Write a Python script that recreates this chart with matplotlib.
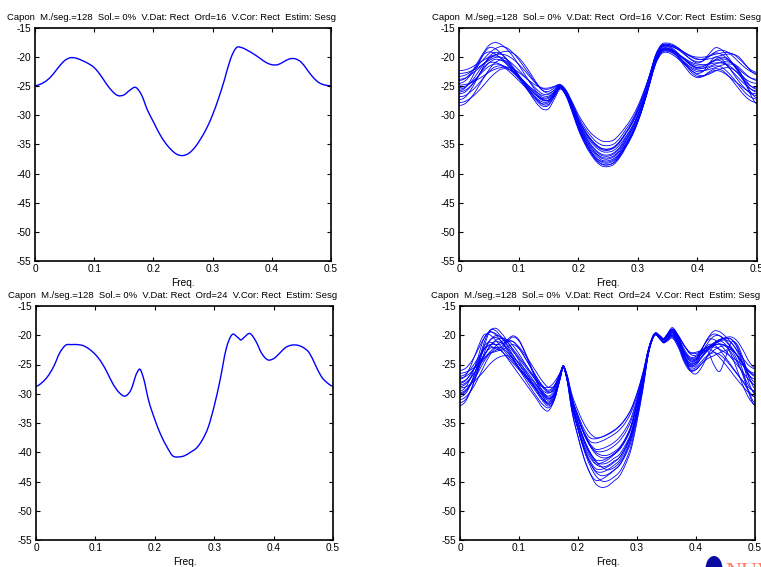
import numpy as np
import matplotlib
matplotlib.use("Agg")
import matplotlib.pyplot as plt
from matplotlib.path import Path
from matplotlib.patches import PathPatch, Ellipse

plt.rcParams["font.family"] = ["Liberation Sans", "DejaVu Sans"]

# Frequency grids
freq_top = [round(0.01 * i, 3) for i in range(51)]
freq_bot = sorted(freq_top + [0.175, 0.345])

title_16 = "Capon  M./seg.=128  Sol.= 0%  V.Dat: Rect  Ord=16  V.Cor: Rect  Estim: Sesg"
title_24 = "Capon  M./seg.=128  Sol.= 0%  V.Dat: Rect  Ord=24  V.Cor: Rect  Estim: Sesg"

xticks = [0, 0.1, 0.2, 0.3, 0.4, 0.5]
xticklabels = ["0", "0.1", "0.2", "0.3", "0.4", "0.5"]
yticks = [-55, -50, -45, -40, -35, -30, -25, -20, -15]
yticklabels = ["-55", "-50", "-45", "-40", "-35", "-30", "-25", "-20", "-15"]

# Order 16, whole record (dB)
spec_16 = [-24.9, -24.6, -24.0, -23.0, -21.7, -20.6, -20.1, -20.2, -20.6, -21.1,
           -21.8, -23.0, -24.5, -25.8, -26.6, -26.5, -25.7, -25.2, -26.5, -29.1,
           -31.1, -33.1, -34.7, -35.9, -36.7, -36.9, -36.5, -35.5, -34.0, -32.2,
           -29.9, -27.1, -23.9, -20.4, -18.4, -18.4, -18.9, -19.5, -20.2, -20.9,
           -21.3, -21.3, -20.8, -20.3, -20.3, -20.9, -22.2, -23.5, -24.4, -24.8,
           -24.9]

# Order 24, whole record (dB)
spec_24 = [-28.7, -28.1, -27.0, -25.3, -23.0, -21.7, -21.6, -21.6, -21.8, -22.4,
           -23.3, -24.6, -26.4, -28.4, -29.8, -30.4, -29.3, -26.4, -25.8, -27.0,
           -31.3, -34.4, -37.0, -39.0, -40.6, -40.8, -40.6, -40.0, -39.3, -37.9,
           -35.7, -32.1, -27.6, -22.4, -19.9, -20.4, -20.8, -20.4, -19.7, -21.0,
           -23.1, -24.2, -24.0, -23.1, -22.1, -21.7, -21.7, -22.1, -23.0, -25.0,
           -27.0, -28.1, -28.7]

# Order 16, one estimate per segment (dB)
seg_16_a = [-22.3, -22.2, -21.8, -21.2, -20.6, -20.0, -19.6, -19.5, -19.7, -20.3,
            -21.2, -22.3, -23.5, -24.6, -25.4, -25.5, -25.1, -24.8, -25.8, -27.7,
            -29.8, -31.5, -32.9, -33.8, -34.4, -34.5, -34.2, -33.2, -31.9, -30.4,
            -28.4, -25.9, -23.0, -19.8, -18.2, -18.0, -18.3, -18.8, -19.3, -19.8,
            -20.0, -20.0, -19.8, -19.5, -19.3, -19.2, -19.5, -20.3, -21.3, -22.2,
            -22.6]
seg_16_b = [-24.0, -23.7, -22.7, -21.1, -19.4, -18.0, -17.5, -17.8, -18.6, -19.8,
            -21.3, -22.9, -24.5, -25.9, -26.9, -26.9, -25.9, -24.9, -26.0, -28.2,
            -30.7, -32.6, -34.1, -35.2, -35.9, -36.0, -35.6, -34.6, -33.1, -31.4,
            -29.2, -26.4, -23.1, -19.6, -17.8, -17.6, -17.9, -18.6, -19.6, -20.5,
            -21.0, -20.6, -19.4, -18.4, -18.7, -19.8, -21.2, -22.6, -23.7, -24.3,
            -24.5]
seg_16_c = [-25.8, -25.3, -23.9, -21.8, -19.7, -18.4, -18.5, -19.3, -20.5, -21.9,
            -23.3, -24.7, -26.0, -27.2, -28.0, -27.8, -26.5, -25.2, -26.5, -29.2,
            -32.1, -34.4, -36.2, -37.6, -38.4, -38.5, -38.1, -37.0, -35.3, -33.5,
            -31.1, -28.1, -24.5, -20.7, -18.7, -18.5, -18.9, -19.7, -20.6, -21.5,
            -22.0, -21.9, -21.2, -20.4, -20.0, -20.3, -21.3, -22.8, -24.3, -25.5,
            -26.0]
seg_16_d = [-28.3, -28.0, -27.0, -25.5, -23.8, -22.2, -21.0, -20.5, -20.8, -21.8,
            -23.2, -24.8, -26.4, -27.9, -28.9, -28.9, -27.2, -25.5, -26.8, -29.5,
            -32.4, -34.7, -36.5, -37.9, -38.7, -38.8, -38.4, -37.2, -35.5, -33.6,
            -31.2, -28.1, -24.4, -20.5, -18.4, -18.2, -18.8, -19.9, -21.3, -22.6,
            -23.3, -23.2, -22.5, -22.0, -22.2, -23.0, -24.2, -25.5, -26.7, -27.5,
            -27.8]
seg_16_e = [-25.2, -25.0, -24.4, -23.5, -22.5, -21.6, -21.2, -21.3, -21.8, -22.6,
            -23.6, -24.6, -25.6, -26.6, -27.3, -27.4, -26.3, -25.0, -26.3, -28.8,
            -31.5, -33.6, -35.4, -36.6, -37.4, -37.5, -37.1, -36.1, -34.5, -32.8,
            -30.6, -27.8, -24.4, -20.9, -19.0, -18.8, -19.1, -19.7, -20.4, -21.1,
            -21.5, -21.5, -21.1, -20.6, -20.3, -20.5, -21.3, -22.5, -23.8, -25.0,
            -25.5]
seg_16_f = [-23.8, -23.6, -23.0, -22.2, -21.3, -20.6, -20.1, -20.0, -20.4, -21.2,
            -22.2, -23.3, -24.4, -25.5, -26.3, -26.4, -25.6, -24.8, -26.0, -28.4,
            -31.0, -33.1, -34.8, -36.0, -36.7, -36.8, -36.4, -35.4, -33.8, -32.1,
            -29.8, -27.0, -23.6, -20.1, -18.2, -18.0, -18.3, -18.9, -19.7, -20.4,
            -20.8, -20.6, -19.9, -19.3, -19.5, -20.2, -21.1, -22.1, -23.0, -23.6,
            -23.8]
seg_16_g = [-27.3, -26.9, -25.6, -23.8, -21.8, -20.0, -19.2, -19.4, -20.3, -21.6,
            -23.0, -24.5, -25.9, -27.2, -28.1, -28.1, -26.7, -25.3, -26.6, -29.1,
            -31.8, -33.9, -35.7, -36.9, -37.7, -37.8, -37.4, -36.4, -34.8, -33.1,
            -30.8, -28.0, -24.6, -21.1, -19.2, -19.0, -19.4, -20.2, -21.1, -22.0,
            -22.5, -22.4, -21.8, -21.5, -21.7, -22.5, -23.6, -24.9, -26.1, -26.9,
            -27.2]
seg_16_h = [-24.8, -24.7, -24.4, -23.9, -23.3, -22.6, -22.1, -21.8, -21.7, -22.0,
            -22.6, -23.4, -24.2, -24.9, -25.3, -25.3, -25.0, -24.7, -25.8, -28.0,
            -30.5, -32.4, -33.9, -35.0, -35.7, -35.8, -35.5, -34.5, -33.0, -31.5,
            -29.4, -26.9, -23.8, -20.5, -18.8, -18.6, -19.0, -19.7, -20.5, -21.3,
            -21.8, -21.9, -21.6, -21.2, -20.9, -20.8, -21.1, -21.8, -22.8, -23.6,
            -24.0]
seg_16_i = [-26.3, -26.0, -25.0, -23.6, -22.0, -21.0, -20.9, -21.3, -22.1, -23.0,
            -24.0, -25.0, -26.0, -27.0, -27.7, -27.6, -26.4, -25.1, -26.4, -29.0,
            -31.9, -34.1, -36.0, -37.3, -38.1, -38.2, -37.8, -36.7, -35.0, -33.3,
            -30.9, -27.9, -24.3, -20.6, -18.6, -18.4, -19.0, -20.1, -21.3, -22.3,
            -22.8, -22.4, -21.0, -20.0, -20.3, -21.4, -22.8, -24.2, -25.4, -26.3,
            -26.6]
seg_16_j = [-23.3, -23.1, -22.5, -21.6, -20.5, -19.4, -18.6, -18.2, -18.4, -19.2,
            -20.4, -21.8, -23.2, -24.6, -25.7, -25.9, -25.3, -24.8, -25.8, -27.9,
            -30.2, -32.0, -33.4, -34.5, -35.1, -35.2, -34.9, -33.9, -32.4, -30.9,
            -28.8, -26.2, -23.0, -19.7, -18.0, -17.8, -18.1, -18.6, -19.3, -19.9,
            -20.3, -20.4, -20.3, -20.0, -19.7, -19.5, -19.5, -20.0, -21.2, -22.4,
            -23.0]
seg_16_k = [-25.5, -25.2, -24.3, -22.9, -21.4, -20.2, -19.8, -20.1, -20.9, -22.0,
            -23.2, -24.4, -25.5, -26.5, -27.1, -27.1, -26.1, -25.0, -26.2, -28.6,
            -31.2, -33.3, -35.0, -36.2, -36.9, -37.0, -36.6, -35.6, -34.1, -32.4,
            -30.2, -27.5, -24.2, -20.7, -18.9, -18.7, -19.0, -19.6, -20.3, -20.9,
            -21.2, -21.3, -21.2, -21.0, -21.0, -21.3, -22.0, -23.0, -24.1, -25.0,
            -25.3]
seg_16_l = [-26.8, -26.6, -25.9, -24.9, -23.7, -22.5, -21.7, -21.5, -21.8, -22.5,
            -23.4, -24.3, -25.2, -26.0, -26.6, -26.7, -26.0, -25.2, -26.3, -28.5,
            -31.0, -32.9, -34.4, -35.5, -36.2, -36.3, -36.0, -35.0, -33.6, -32.0,
            -30.0, -27.4, -24.3, -21.1, -19.4, -19.2, -19.7, -20.5, -21.4, -22.3,
            -23.0, -23.2, -22.9, -22.4, -22.0, -21.8, -22.1, -23.0, -24.5, -26.1,
            -27.0]
seg_16_m = [-24.5, -24.1, -23.0, -21.4, -19.7, -19.1, -19.4, -20.2, -21.2, -22.3,
            -23.4, -24.5, -25.6, -26.6, -27.4, -27.4, -26.2, -25.0, -26.2, -28.7,
            -31.4, -33.6, -35.3, -36.5, -37.2, -37.3, -36.9, -35.9, -34.3, -32.5,
            -30.1, -27.2, -23.7, -20.2, -18.3, -18.1, -18.6, -19.6, -20.6, -21.4,
            -21.8, -21.6, -21.0, -20.5, -20.7, -21.5, -22.6, -23.7, -24.7, -25.5,
            -25.8]
seg_16_n = [-27.8, -27.6, -27.0, -26.1, -25.0, -23.8, -22.8, -22.1, -22.0, -22.4,
            -23.2, -24.2, -25.3, -26.3, -27.2, -27.4, -26.6, -25.3, -26.6, -29.2,
            -32.0, -34.2, -36.0, -37.3, -37.9, -38.0, -37.6, -36.6, -35.0, -33.3,
            -30.9, -28.1, -24.6, -21.0, -19.1, -18.9, -19.3, -20.1, -21.0, -21.8,
            -22.2, -22.3, -22.1, -21.8, -21.4, -21.2, -21.3, -22.3, -24.3, -26.6,
            -28.0]
seg_16_o = [-22.8, -22.7, -22.4, -21.9, -21.2, -20.4, -19.7, -19.2, -19.0, -19.3,
            -20.1, -21.3, -22.8, -24.4, -25.7, -26.2, -25.7, -24.9, -25.9, -28.1,
            -30.6, -32.5, -34.0, -35.1, -35.7, -35.8, -35.4, -34.4, -32.9, -31.2,
            -29.0, -26.3, -23.1, -19.7, -18.0, -17.8, -18.1, -18.7, -19.4, -20.0,
            -20.4, -20.3, -19.8, -19.1, -18.8, -19.1, -19.9, -20.9, -21.8, -22.5,
            -22.8]
seg_16_p = [-26.0, -25.7, -24.9, -23.6, -22.2, -21.0, -20.4, -20.5, -21.2, -22.3,
            -23.6, -25.0, -26.3, -27.5, -28.4, -28.3, -26.8, -25.2, -26.5, -29.2,
            -32.1, -34.4, -36.2, -37.6, -38.4, -38.5, -38.1, -36.9, -35.2, -33.3,
            -30.9, -27.9, -24.2, -20.5, -18.8, -18.6, -19.2, -20.4, -21.8, -23.0,
            -23.5, -23.3, -22.7, -22.3, -22.5, -23.1, -23.9, -24.7, -25.5, -26.1,
            -26.3]

# Order 24, one estimate per segment (dB)
seg_24_a = [-26.0, -25.6, -24.4, -22.6, -20.6, -19.5, -19.7, -20.5, -21.6, -22.8,
            -24.0, -25.3, -26.6, -27.8, -28.8, -28.9, -28.0, -26.3, -25.3, -26.3,
            -30.2, -32.9, -35.1, -36.7, -37.5, -37.4, -37.0, -36.4, -35.6, -34.4,
            -32.7, -30.0, -26.5, -22.2, -19.8, -20.4, -20.8, -20.3, -19.2, -20.2,
            -21.8, -23.2, -23.4, -22.3, -20.5, -19.3, -19.4, -20.2, -21.3, -22.6,
            -24.0, -25.2, -25.7]
seg_24_b = [-32.0, -31.2, -29.0, -25.8, -22.2, -19.4, -18.8, -19.6, -21.0, -22.6,
            -24.3, -26.0, -27.7, -29.3, -30.8, -31.4, -30.0, -27.0, -25.4, -26.8,
            -32.3, -36.0, -39.3, -41.7, -43.4, -44.0, -43.8, -43.1, -42.3, -40.6,
            -38.2, -33.8, -28.7, -22.7, -19.9, -20.3, -20.7, -20.0, -18.7, -20.2,
            -23.2, -26.0, -26.6, -25.4, -23.4, -21.8, -21.0, -21.6, -23.4, -26.0,
            -28.7, -30.8, -31.8]
seg_24_c = [-28.5, -28.1, -27.0, -25.6, -24.2, -23.1, -22.6, -22.0, -20.8, -20.1,
            -20.8, -22.8, -25.2, -27.6, -29.6, -30.4, -29.4, -26.8, -25.3, -26.7,
            -31.6, -34.9, -37.8, -40.0, -41.3, -41.4, -41.0, -40.3, -39.4, -37.8,
            -35.5, -31.6, -27.2, -22.2, -19.7, -20.5, -21.0, -20.6, -19.6, -20.8,
            -22.8, -24.1, -24.0, -23.2, -22.2, -21.3, -20.7, -20.5, -20.7, -21.9,
            -24.3, -26.8, -28.0]
seg_24_d = [-30.2, -29.6, -27.8, -25.3, -22.0, -21.2, -21.6, -22.6, -23.9, -25.3,
            -26.7, -28.1, -29.5, -30.9, -32.4, -32.9, -31.0, -27.4, -25.5, -27.0,
            -33.1, -37.2, -40.9, -43.5, -45.4, -46.0, -45.8, -45.0, -44.1, -42.2,
            -39.5, -34.8, -29.3, -22.9, -20.0, -20.7, -21.2, -20.9, -20.2, -21.6,
            -23.8, -25.3, -25.2, -23.6, -22.5, -22.8, -23.8, -25.0, -26.3, -27.6,
            -28.8, -29.9, -30.5]
seg_24_e = [-27.3, -27.0, -26.2, -25.0, -23.5, -22.0, -20.9, -20.5, -20.8, -21.8,
            -23.2, -24.8, -26.4, -28.0, -29.4, -29.9, -29.0, -26.6, -25.2, -26.4,
            -31.0, -34.0, -36.5, -38.1, -38.4, -38.1, -37.6, -37.0, -36.2, -35.0,
            -33.2, -30.4, -26.8, -22.3, -19.7, -20.2, -20.6, -20.0, -19.0, -20.1,
            -21.8, -22.9, -22.9, -22.5, -22.0, -21.7, -21.5, -21.7, -22.3, -23.4,
            -24.8, -26.1, -26.8]
seg_24_f = [-29.5, -28.8, -26.8, -23.9, -20.7, -19.4, -19.9, -21.1, -22.6, -24.1,
            -25.5, -26.8, -28.1, -29.5, -30.9, -31.6, -30.3, -27.1, -25.4, -26.8,
            -31.7, -35.1, -38.2, -40.4, -42.0, -42.5, -42.3, -41.6, -40.9, -39.3,
            -37.0, -33.0, -28.2, -22.5, -19.8, -20.6, -21.1, -20.7, -19.8, -21.2,
            -23.6, -25.0, -24.5, -22.9, -22.7, -25.0, -26.2, -23.8, -21.2, -21.6,
            -24.0, -27.2, -29.0]
seg_24_g = [-31.0, -30.5, -29.3, -27.5, -25.4, -23.5, -22.2, -22.1, -22.9, -24.2,
            -25.8, -27.4, -29.0, -30.5, -31.8, -32.4, -31.0, -27.3, -25.4, -26.9,
            -31.6, -34.8, -37.7, -39.9, -41.5, -42.5, -43.0, -42.7, -41.8, -40.1,
            -37.5, -33.5, -28.5, -22.8, -20.0, -20.8, -21.3, -20.9, -20.0, -21.6,
            -24.3, -25.9, -25.8, -24.8, -23.6, -22.6, -22.0, -21.8, -22.5, -24.3,
            -27.0, -29.8, -31.5]
seg_24_h = [-28.0, -27.6, -26.4, -24.6, -22.6, -20.9, -20.1, -20.3, -21.2, -22.4,
            -23.7, -25.0, -26.3, -27.6, -28.9, -29.6, -28.8, -26.5, -25.2, -26.5,
            -30.9, -34.1, -36.6, -38.5, -39.5, -39.4, -39.0, -38.4, -37.5, -36.1,
            -34.1, -30.9, -26.9, -22.2, -19.7, -20.3, -20.7, -20.3, -19.3, -20.6,
            -22.9, -24.4, -24.2, -22.9, -21.3, -20.2, -20.1, -20.8, -22.0, -23.5,
            -25.2, -26.8, -27.5]
seg_24_i = [-29.0, -28.8, -28.2, -27.3, -26.2, -25.0, -24.1, -23.6, -23.5, -23.9,
            -24.7, -25.8, -27.1, -28.5, -29.9, -30.8, -30.0, -27.0, -25.3, -26.8,
            -32.0, -35.6, -38.7, -40.8, -42.0, -41.8, -41.3, -40.5, -39.5, -37.9,
            -35.6, -31.8, -27.4, -22.5, -19.9, -20.6, -21.1, -20.9, -20.3, -21.8,
            -24.2, -25.7, -25.5, -24.4, -23.4, -23.0, -23.3, -24.2, -25.4, -26.7,
            -27.9, -29.0, -29.5]
seg_24_j = [-30.5, -29.9, -27.9, -24.9, -21.5, -19.2, -19.2, -20.3, -21.8, -23.4,
            -25.0, -26.5, -28.0, -29.4, -30.9, -31.8, -30.5, -27.2, -25.4, -26.9,
            -32.2, -36.1, -39.6, -42.2, -44.0, -44.9, -44.9, -44.3, -43.4, -41.6,
            -38.9, -34.3, -29.0, -22.8, -19.9, -20.4, -20.8, -20.4, -19.5, -20.9,
            -23.3, -24.8, -24.6, -23.6, -22.5, -21.5, -20.8, -20.5, -20.7, -22.2,
            -25.0, -28.2, -30.0]
seg_24_k = [-27.0, -26.6, -25.5, -24.0, -22.5, -21.6, -21.6, -21.5, -21.1, -21.1,
            -22.2, -23.8, -25.5, -27.2, -28.6, -29.4, -28.6, -26.4, -25.2, -26.5,
            -30.9, -34.0, -36.7, -38.7, -39.8, -39.9, -39.6, -39.0, -38.1, -36.7,
            -34.6, -31.2, -27.1, -22.3, -19.7, -20.2, -20.6, -20.1, -19.0, -20.3,
            -22.4, -23.7, -23.6, -22.7, -22.1, -22.0, -22.4, -23.0, -23.7, -24.4,
            -25.2, -26.1, -26.5]
seg_24_l = [-29.8, -29.3, -28.0, -26.0, -23.8, -21.9, -21.1, -21.3, -22.2, -23.5,
            -24.9, -26.2, -27.4, -28.6, -29.8, -30.6, -29.8, -26.9, -25.4, -26.9,
            -32.4, -36.1, -39.4, -41.7, -43.2, -43.4, -43.0, -42.3, -41.4, -39.6,
            -37.1, -32.9, -28.1, -22.6, -19.8, -20.6, -21.1, -20.8, -20.0, -21.4,
            -23.7, -25.1, -24.9, -23.8, -22.6, -21.8, -21.5, -21.9, -23.0, -24.7,
            -26.7, -28.7, -29.7]
seg_24_m = [-28.8, -28.3, -27.1, -25.4, -23.6, -22.3, -22.1, -22.7, -23.7, -24.8,
            -25.9, -27.0, -28.1, -29.2, -30.4, -31.1, -30.0, -27.0, -25.3, -26.7,
            -31.0, -34.1, -36.9, -38.9, -40.3, -40.9, -40.9, -40.4, -39.6, -38.1,
            -35.9, -32.0, -27.5, -22.4, -19.8, -20.3, -20.7, -20.3, -19.4, -20.6,
            -22.7, -23.9, -23.8, -23.1, -22.3, -21.6, -21.0, -20.8, -21.3, -22.8,
            -25.0, -27.3, -28.5]
seg_24_n = [-31.5, -30.9, -29.0, -26.3, -23.3, -21.0, -20.4, -21.0, -22.3, -23.9,
            -25.5, -27.0, -28.4, -29.8, -31.2, -32.1, -30.9, -27.3, -25.5, -27.0,
            -33.2, -37.4, -41.0, -43.5, -44.8, -44.6, -44.0, -43.2, -42.2, -40.4,
            -37.7, -33.5, -28.6, -22.9, -20.0, -20.8, -21.3, -21.1, -20.5, -22.1,
            -24.6, -26.1, -25.9, -24.8, -24.0, -23.5, -23.0, -22.6, -22.5, -23.6,
            -26.3, -30.0, -32.0]
seg_24_o = [-27.5, -26.8, -24.8, -22.2, -20.0, -19.9, -20.8, -22.0, -23.3, -24.5,
            -25.6, -26.7, -27.8, -28.9, -30.1, -30.9, -29.9, -26.9, -25.3, -26.7,
            -31.8, -35.0, -38.0, -40.1, -41.6, -42.0, -41.8, -41.1, -40.4, -38.8,
            -36.6, -32.7, -28.0, -22.5, -19.8, -20.3, -20.7, -20.2, -19.2, -20.5,
            -22.8, -24.3, -24.0, -22.4, -20.6, -19.8, -20.1, -21.0, -22.2, -23.5,
            -24.9, -26.3, -27.0]
seg_24_p = [-30.0, -29.5, -28.2, -26.5, -24.6, -23.2, -22.8, -22.4, -21.1, -20.3,
            -21.0, -23.0, -25.5, -28.0, -30.3, -31.8, -30.7, -27.2, -25.4, -26.9,
            -32.1, -35.8, -39.0, -41.4, -42.8, -42.9, -42.5, -41.8, -40.9, -39.2,
            -36.8, -32.7, -28.0, -22.5, -19.8, -20.6, -21.1, -20.8, -19.8, -21.4,
            -24.0, -25.4, -24.8, -23.0, -21.7, -21.6, -22.5, -23.8, -25.2, -26.6,
            -28.0, -29.6, -30.5]
seg_24_q = [-26.5, -26.3, -25.8, -25.0, -24.0, -22.9, -21.9, -21.1, -20.8, -21.1,
            -22.0, -23.3, -24.8, -26.4, -27.9, -28.9, -28.6, -26.4, -25.2, -26.3,
            -30.7, -33.6, -36.0, -37.5, -37.7, -37.4, -36.9, -36.3, -35.5, -34.3,
            -32.6, -29.9, -26.4, -22.1, -19.7, -20.2, -20.6, -20.0, -18.9, -20.0,
            -21.7, -23.0, -23.1, -22.6, -22.0, -21.4, -20.9, -20.4, -20.3, -21.0,
            -22.6, -24.5, -25.5]
seg_24_r = [-28.2, -27.7, -26.3, -24.4, -22.4, -21.8, -22.3, -22.6, -22.0, -21.6,
            -22.3, -23.8, -25.5, -27.2, -28.8, -29.8, -29.2, -26.7, -25.3, -26.6,
            -31.0, -34.1, -36.8, -38.7, -40.0, -40.5, -40.5, -40.0, -39.2, -37.7,
            -35.4, -31.6, -27.2, -22.3, -19.8, -20.4, -20.8, -20.4, -19.5, -20.9,
            -23.3, -24.7, -24.2, -22.3, -20.8, -20.7, -21.5, -22.6, -23.9, -25.1,
            -26.4, -27.7, -28.5]

segments_16 = [seg_16_a, seg_16_b, seg_16_c, seg_16_d, seg_16_e, seg_16_f,
               seg_16_g, seg_16_h, seg_16_i, seg_16_j, seg_16_k, seg_16_l,
               seg_16_m, seg_16_n, seg_16_o, seg_16_p]
segments_24 = [seg_24_a, seg_24_b, seg_24_c, seg_24_d, seg_24_e, seg_24_f,
               seg_24_g, seg_24_h, seg_24_i, seg_24_j, seg_24_k, seg_24_l,
               seg_24_m, seg_24_n, seg_24_o, seg_24_p, seg_24_q, seg_24_r]

W, H = 761, 567
fig = plt.figure(figsize=(W / 100, H / 100), dpi=100)
blue = "#0000ff"


def box(l, t, r, b):
    return [l / W, 1 - b / H, (r - l) / W, (b - t) / H]


def spectrum(ax, f, db, lw):
    """Draw a spectrum as a smooth curve (cubic Hermite segments through the samples)."""
    f = np.asarray(f, float)
    db = np.asarray(db, float)
    slope = np.gradient(db, f)
    slope[0] = slope[-1] = 0.0
    verts = [(f[0], db[0])]
    codes = [Path.MOVETO]
    for i in range(len(f) - 1):
        h = (f[i + 1] - f[i]) / 3.0
        verts += [(f[i] + h, db[i] + slope[i] * h),
                  (f[i + 1] - h, db[i + 1] - slope[i + 1] * h),
                  (f[i + 1], db[i + 1])]
        codes += [Path.CURVE4] * 3
    ax.add_patch(PathPatch(Path(verts, codes), fill=False, edgecolor=blue,
                           linewidth=lw, capstyle="round", joinstyle="round"))


def style(ax, title):
    ax.set_xlim(0, 0.5)
    ax.set_ylim(-55, -15)
    ax.set_xticks(xticks)
    ax.set_xticklabels(xticklabels)
    ax.set_yticks(yticks)
    ax.set_yticklabels(yticklabels)
    ax.tick_params(direction="in", top=True, right=True, length=3, width=0.8,
                   labelsize=7.3, pad=2.5, colors="black")
    for s in ax.spines.values():
        s.set_linewidth(1.2)
    ax.set_xlabel("Freq.", fontsize=7.3, labelpad=2.5)
    ax.text(0.46, 1.024, title, transform=ax.transAxes, ha="center", va="bottom",
            fontsize=6.8)


ax1 = fig.add_axes(box(35, 28, 331, 261))
spectrum(ax1, freq_top, spec_16, 1.0)
style(ax1, title_16)

ax2 = fig.add_axes(box(459, 28, 757, 261))
for s in segments_16:
    spectrum(ax2, freq_top, s, 0.6)
style(ax2, title_16)

ax3 = fig.add_axes(box(36, 306, 333, 540))
spectrum(ax3, freq_bot, spec_24, 1.0)
style(ax3, title_24)

ax4 = fig.add_axes(box(460, 306, 755, 540))
for s in segments_24:
    spectrum(ax4, freq_bot, s, 0.6)
style(ax4, title_24)

# Emblem at the lower right corner, partly below the page edge
fig.patches.append(Ellipse((714 / W, 1 - 569 / H), 17 / W, 26 / H,
                           transform=fig.transFigure, facecolor="#0a0aa0",
                           edgecolor="none"))
fig.text(725 / W, 1 - 577 / H, "NUV", color="#ff7a60", fontsize=16,
         family=["Liberation Serif", "DejaVu Serif"], ha="left", va="baseline")

fig.savefig("out.png", dpi=100)
